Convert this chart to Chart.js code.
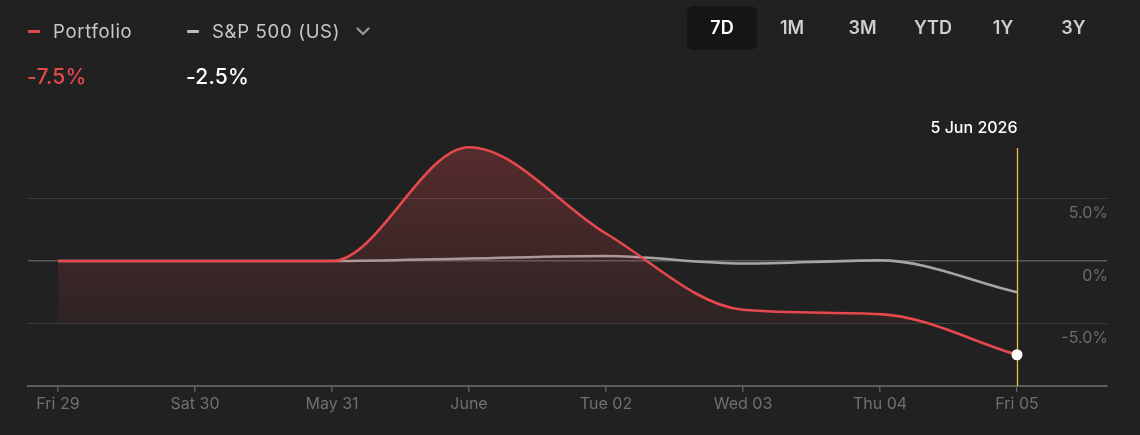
<!DOCTYPE html>
<html>
<head>
<meta charset="utf-8">
<script src="https://cdn.jsdelivr.net/npm/chart.js@4.4.1/dist/chart.umd.min.js"></script>
<style>
    html, body { margin: 0; padding: 0; background: #212121; }
    body { width: 1140px; height: 435px; position: relative; overflow: hidden; font-family: Inter, "Noto Sans", sans-serif; }
    #chartWrap { position: absolute; left: 0; top: 0; width: 1140px; height: 435px; }
    .legend { position: absolute; top: 20px; display: flex; align-items: center; font-size: 18.5px; letter-spacing: 0.7px; color: #c9c9c9; }
    .legend .dash { width: 12px; height: 3px; border-radius: 1px; margin-right: 13px; }
    .legend svg { margin-left: 16px; }
    .value { position: absolute; top: 64px; font-size: 21px; font-weight: 500; letter-spacing: 0.2px; }
    .tabs { position: absolute; top: 6px; left: 687px; display: flex; }
    .tab { height: 44px; line-height: 44px; text-align: center; font-size: 18px; font-weight: 600; color: #cfcfcf; border-radius: 7px; }
    .tab.active { background: #151515; color: #fff; }
</style>
</head>
<body>
<div id="chartWrap"><canvas id="perfChart"></canvas></div>

<div class="legend" style="left:28px"><span class="dash" style="background:#e5484d"></span>Portfolio</div>
<div class="legend" style="left:187px"><span class="dash" style="background:#bdbdbd"></span>S&amp;P 500 (US)
    <svg width="14" height="9" viewBox="0 0 14 9"><path d="M1.5 1.5 L7 7 L12.5 1.5" fill="none" stroke="#9a9a9a" stroke-width="2.2" stroke-linecap="round" stroke-linejoin="round"/></svg>
</div>
<div class="value" style="left:27px;color:#e5484d">-7.5%</div>
<div class="value" style="left:186px;color:#fff">-2.5%</div>

<div class="tabs" id="tabs"></div>

<script>
// ========== 数据 ==========
const categories = ['Fri 29', 'Sat 30', 'May 31', 'June', 'Tue 02', 'Wed 03', 'Thu 04', 'Fri 05'];
const portfolio = [0, 0, 0, 9.1, 2.2, -3.9, -4.25, -7.5];
const sp500 = [0, 0, 0, 0.2, 0.4, -0.2, 0.05, -2.5];
const yTicks = [-5, 0, 5];
const ranges = ['7D', '1M', '3M', 'YTD', '1Y', '3Y'];
const selectedLabel = '5 Jun 2026';

// ========== 时间范围按钮 ==========
const tabWidths = [70, 70, 71, 70, 70, 71];
document.getElementById('tabs').innerHTML = ranges.map((r, i) =>
    `<div class="tab ${i === 0 ? 'active' : ''}" style="width:${tabWidths[i]}px">${r}</div>`
).join('');

// ========== 图表 ==========
const red = '#e5484d';
const lastIdx = categories.length - 1;
const font = 'Inter, "Noto Sans", sans-serif';

const toPoints = arr => arr.map((v, i) => ({ x: i, y: v }));

// 竖线 + 日期标签
const crosshair = {
    id: 'crosshair',
    beforeDatasetsDraw(chart) {
        const { ctx, scales: { x }, chartArea } = chart;
        const px = Math.round(x.getPixelForValue(lastIdx)) + 0.5;
        ctx.save();
        ctx.strokeStyle = '#f5b94f';
        ctx.lineWidth = 1.3;
        ctx.beginPath();
        ctx.moveTo(px, chartArea.top + 12);
        ctx.lineTo(px, chartArea.bottom);
        ctx.stroke();
        ctx.fillStyle = '#ffffff';
        ctx.font = '500 16px ' + font;
        ctx.textAlign = 'right';
        ctx.textBaseline = 'middle';
        ctx.fillText(selectedLabel, px, chartArea.top - 8);
        ctx.restore();
    }
};

function redFill(context) {
    const { ctx, chartArea } = context.chart;
    if (!chartArea) return 'rgba(229,72,77,0.2)';
    const g = ctx.createLinearGradient(0, chartArea.top + 10, 0, context.chart.scales.y.getPixelForValue(-5));
    g.addColorStop(0, 'rgba(229,72,77,0.28)');
    g.addColorStop(1, 'rgba(229,72,77,0.07)');
    return g;
}

const chart = new Chart(document.getElementById('perfChart'), {
    type: 'line',
    data: {
        datasets: [
            {
                label: 'Portfolio',
                data: toPoints(portfolio),
                borderColor: red,
                borderWidth: 2.6,
                cubicInterpolationMode: 'monotone',
                fill: { target: { value: -5 }, above: redFill, below: 'transparent' },
                pointRadius: ctx => ctx.dataIndex === lastIdx ? 5.5 : 0,
                pointBackgroundColor: '#ffffff',
                pointBorderWidth: 0
            },
            {
                label: 'S&P 500 (US)',
                data: toPoints(sp500),
                borderColor: '#a6a6a6',
                borderWidth: 2.6,
                cubicInterpolationMode: 'monotone',
                fill: false,
                pointRadius: 0
            }
        ]
    },
    options: {
        responsive: true,
        maintainAspectRatio: false,
        animation: false,
        layout: { padding: { top: 136, left: 28, right: 33, bottom: 0 } },
        plugins: { legend: { display: false }, tooltip: { enabled: false } },
        scales: {
            x: {
                type: 'linear',
                min: -0.219,
                max: 7.657,
                afterBuildTicks: s => { s.ticks = categories.map((c, i) => ({ value: i })); },
                afterFit: s => { s.height = 49; },
                border: { display: true, color: '#5c5c5c', width: 2 },
                grid: { drawOnChartArea: false, drawTicks: true, tickLength: 6, color: '#5c5c5c', lineWidth: 1.5 },
                ticks: {
                    padding: 3,
                    color: '#707070',
                    font: { family: font, size: 16 },
                    maxRotation: 0,
                    autoSkip: false,
                    callback: v => categories[v]
                }
            },
            y: {
                position: 'right',
                min: -10,
                max: 10,
                afterBuildTicks: s => { s.ticks = yTicks.map(v => ({ value: v })); },
                afterFit: s => { s.width = 0; },
                border: { display: false },
                grid: {
                    drawTicks: false,
                    color: c => c.tick && c.tick.value === 0 ? '#5a5a5a' : '#3d3d3d',
                    lineWidth: c => c.tick && c.tick.value === 0 ? 1.5 : 1
                },
                ticks: {
                    mirror: true,
                    padding: 1,
                    labelOffset: 15,
                    color: '#6c6c6c',
                    font: { family: font, size: 16 },
                    callback: v => v === 0 ? '0%' : v.toFixed(1) + '%'
                }
            }
        }
    },
    plugins: [crosshair]
});
</script>
</body>
</html>
